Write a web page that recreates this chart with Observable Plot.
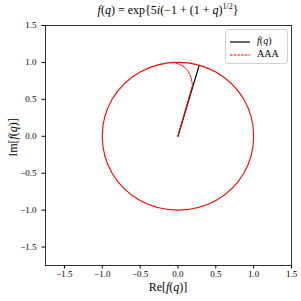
<!DOCTYPE html>
<html><head><meta charset="utf-8">
<script src="https://cdn.jsdelivr.net/npm/d3@7"></script>
<script src="https://cdn.jsdelivr.net/npm/@observablehq/plot@0.6"></script>
<style>
body{margin:0;background:#fff;}
#wrap{position:relative;width:301px;height:301px;font-family:"Liberation Serif",serif;}
#title{position:absolute;top:2px;left:0;width:336px;text-align:center;font-size:12px;white-space:nowrap;}
#xlab{position:absolute;top:281px;left:0;width:336px;text-align:center;font-size:12px;line-height:13px;white-space:nowrap;}
#ylab{position:absolute;left:-27px;top:131px;width:80px;text-align:center;font-size:12px;line-height:13px;white-space:nowrap;transform:rotate(-90deg);}
#legend{position:absolute;left:225px;top:29px;width:61px;height:33px;border:1px solid #d0d0d0;border-radius:3px;background:#fff;font-size:10px;}
#legend div{position:absolute;left:4px;height:12px;white-space:nowrap;}
#legend svg{vertical-align:middle;}
</style></head>
<body><div id="wrap"><div id="chart"></div>
<div id="title"><i>f</i>(<i>q</i>) = exp{5<i>i</i>(−1 + (1 + <i>q</i>)<sup style="font-size:8px">1/2</sup>}</div>
<div id="xlab">Re[<i>f</i>(<i>q</i>)]</div>
<div id="ylab">Im[<i>f</i>(<i>q</i>)]</div>
<div id="legend">
<div style="top:5px"><svg width="22" height="4"><line x1="0" y1="2" x2="20" y2="2" stroke="#000" stroke-width="1.2"/></svg>&nbsp;&nbsp;<i>f</i>(<i>q</i>)</div>
<div style="top:18px"><svg width="22" height="4"><line x1="0" y1="2" x2="20" y2="2" stroke="#e00" stroke-width="1" stroke-dasharray="2.5,1.2"/></svg>&nbsp;&nbsp;AAA</div>
</div>
</div>
<script>
// f(q): ray from origin to the circle
const fRayX = [0, 0.28];
const fRayY = [0, 0.96];
// unit circle points
const circX = [1, 0.87, 0.5, 0, -0.5, -0.87, -1, -0.87, -0.5, 0, 0.5, 0.87];
const circY = [0, 0.5, 0.87, 1, 0.87, 0.5, 0, -0.5, -0.87, -1, -0.87, -0.5];
// AAA: follows the ray, then a dashed arc to the top of the circle
const aaaRayX = [0, 0.19];
const aaaRayY = [0, 0.68];
const aaaArcX = [0.19, 0.17, 0.12, 0.05, -0.03];
const aaaArcY = [0.70, 0.80, 0.90, 0.96, 0.99];
const ticks = [-1.5, -1.0, -0.5, 0.0, 0.5, 1.0, 1.5];

const pts = (xs, ys) => xs.map((x, i) => ({x, y: ys[i]}));
const fmt = d => d.toFixed(1).replace("-", "\u2212");

const chart = Plot.plot({
  width: 301, height: 301,
  marginLeft: 45, marginRight: 10, marginTop: 25, marginBottom: 36,
  style: {fontFamily: "Liberation Serif, serif", fontSize: "9px", color: "#000", background: "#fff"},
  x: {domain: [-1.75, 1.5], ticks, tickFormat: fmt, tickSize: 3.5, label: null},
  y: {domain: [-1.75, 1.5], ticks, tickFormat: fmt, tickSize: 3.5, label: null},
  marks: [
    Plot.line(pts(fRayX, fRayY), {x: "x", y: "y", stroke: "#000", strokeWidth: 1.2}),
    Plot.line(pts(circX, circY), {x: "x", y: "y", stroke: "#f00", strokeWidth: 1.1, curve: "catmull-rom-closed"}),
    Plot.line(pts(aaaRayX, aaaRayY), {x: "x", y: "y", stroke: "#e00", strokeWidth: 1.1}),
    Plot.line(pts(aaaArcX, aaaArcY), {x: "x", y: "y", stroke: "#e00", strokeWidth: 1, strokeDasharray: "2.5,1.2", curve: "catmull-rom"}),
    Plot.frame({stroke: "#000", strokeWidth: 0.8}),
    Plot.axisX({ticks, tickFormat: fmt, tickSize: 3.5, tickPadding: 2, label: null}),
    Plot.axisY({ticks, tickFormat: fmt, tickSize: 3.5, label: null})
  ]
});
document.getElementById("chart").appendChild(chart);
</script>
</body></html>
